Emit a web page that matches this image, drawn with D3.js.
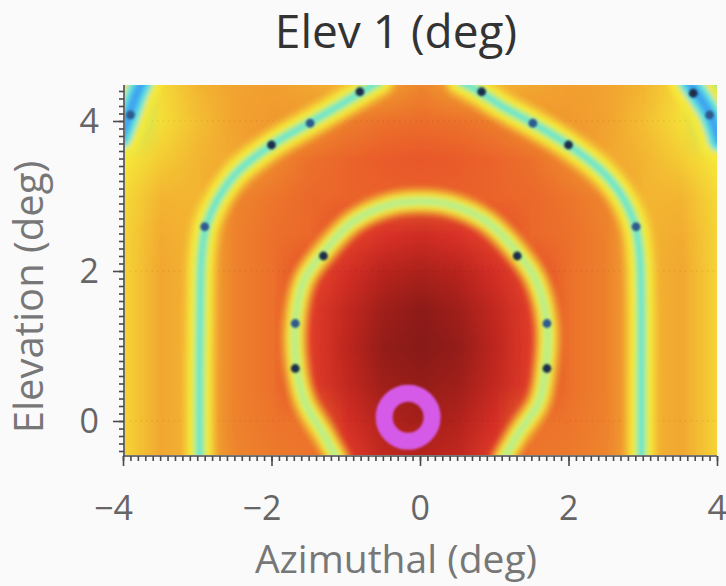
<!DOCTYPE html>
<html>
<head>
<meta charset="utf-8">
<script src="https://cdn.jsdelivr.net/npm/d3@7"></script>
<style>
  html, body { margin: 0; padding: 0; background: #fafafa; }
  svg { display: block; }
  text { font-family: "Open Sans", "DejaVu Sans", sans-serif; }
</style>
</head>
<body>
<svg id="chart" width="726" height="586"></svg>
<script>
// ---- data -------------------------------------------------------------
const titleText = "Elev 1 (deg)";
const xLabelText = "Azimuthal (deg)";
const yLabelText = "Elevation (deg)";

const xTickValues = [-4, -2, 0, 2, 4];
const yTickValues = [0, 2, 4];

// sample positions of the response grid (deg)
const azimuthGrid = [-4, -3.5, -3, -2.5, -2, -1.5, -1, -0.5, 0, 0.5, 1, 1.5, 2, 2.5, 3, 3.5, 4];
const elevationGrid = [4.5, 4, 3.5, 3, 2.5, 2, 1.5, 1, 0.5, 0, -0.5];

// normalised response level, one row per elevation (top to bottom)
const levelGrid = [
  [0.28, 0.47, 0.55, 0.59, 0.60, 0.58, 0.55, 0.60, 0.66, 0.60, 0.55, 0.58, 0.60, 0.59, 0.55, 0.47, 0.28],
  [0.34, 0.46, 0.53, 0.59, 0.61, 0.62, 0.68, 0.71, 0.72, 0.71, 0.68, 0.62, 0.61, 0.59, 0.53, 0.46, 0.34],
  [0.44, 0.50, 0.55, 0.58, 0.65, 0.71, 0.74, 0.76, 0.77, 0.76, 0.74, 0.71, 0.65, 0.58, 0.55, 0.50, 0.44],
  [0.47, 0.55, 0.55, 0.66, 0.70, 0.73, 0.74, 0.75, 0.75, 0.75, 0.74, 0.73, 0.70, 0.66, 0.55, 0.55, 0.47],
  [0.48, 0.57, 0.55, 0.67, 0.71, 0.73, 0.81, 0.86, 0.88, 0.86, 0.81, 0.73, 0.71, 0.67, 0.55, 0.57, 0.48],
  [0.48, 0.58, 0.55, 0.67, 0.71, 0.80, 0.87, 0.92, 0.94, 0.92, 0.87, 0.80, 0.71, 0.67, 0.55, 0.58, 0.48],
  [0.48, 0.58, 0.55, 0.67, 0.71, 0.83, 0.90, 0.96, 0.99, 0.96, 0.90, 0.83, 0.71, 0.67, 0.55, 0.58, 0.48],
  [0.48, 0.58, 0.55, 0.67, 0.71, 0.83, 0.91, 0.98, 1.00, 0.98, 0.91, 0.83, 0.71, 0.67, 0.55, 0.58, 0.48],
  [0.48, 0.58, 0.55, 0.67, 0.71, 0.83, 0.90, 0.96, 0.98, 0.96, 0.90, 0.83, 0.71, 0.67, 0.55, 0.58, 0.48],
  [0.48, 0.58, 0.55, 0.67, 0.70, 0.71, 0.87, 0.93, 0.95, 0.93, 0.87, 0.71, 0.70, 0.67, 0.55, 0.58, 0.48],
  [0.48, 0.58, 0.55, 0.66, 0.69, 0.70, 0.83, 0.90, 0.92, 0.90, 0.83, 0.70, 0.69, 0.66, 0.55, 0.58, 0.48]
];

// null contours [azimuth, elevation]
const innerNull = [
  [-1.12, -0.5], [-1.31, -0.16], [-1.55, 0.25], [-1.66, 0.7], [-1.68, 1.3], [-1.56, 1.88],
  [-1.3, 2.25], [-0.9, 2.66], [-0.42, 2.88], [0, 2.93], [0.42, 2.88], [0.9, 2.66],
  [1.31, 2.25], [1.56, 1.88], [1.71, 1.3], [1.69, 0.7], [1.6, 0.25], [1.33, -0.16], [1.13, -0.5]
];
const outerNullLeft = [
  [-2.97, -0.5], [-2.97, 0.5], [-2.96, 1.5], [-2.94, 2.2], [-2.88, 2.6], [-2.7, 3.0],
  [-2.45, 3.33], [-2.0, 3.68], [-1.5, 3.97], [-1.1, 4.2], [-0.8, 4.38], [-0.55, 4.53]
];
const outerNullRight = [
  [0.55, 4.53], [0.82, 4.38], [1.1, 4.2], [1.52, 3.97], [2.0, 3.68], [2.45, 3.33],
  [2.72, 3.0], [2.9, 2.6], [2.96, 2.2], [2.98, 1.5], [2.98, 0.5], [2.98, -0.5]
];
const cornerNullLeft = [[-3.74, 4.53], [-3.84, 4.3], [-3.92, 4.07], [-4.03, 3.78]];
const cornerNullRight = [[3.62, 4.53], [3.72, 4.38], [3.9, 4.1], [4.03, 3.74]];

// measured null positions [azimuth, elevation, shade]
const nullMarkers = [
  [-1.3, 2.2, 0], [-1.68, 1.3, 1], [-1.68, 0.7, 0],
  [1.31, 2.2, 0], [1.71, 1.3, 1], [1.71, 0.7, 0],
  [-2.9, 2.59, 1], [-2.0, 3.68, 0], [-1.48, 3.97, 1], [-0.81, 4.39, 0],
  [0.83, 4.39, 0], [1.52, 3.97, 1], [2.0, 3.68, 0], [2.91, 2.59, 1],
  [-3.9, 4.08, 1], [3.68, 4.37, 0], [3.9, 4.08, 1]
];

// beam pointing direction
const pointing = [[-0.16, 0.05]];

// ---- layout -----------------------------------------------------------
const svg = d3.select("#chart");
const plot = { left: 124, right: 717, top: 85, bottom: 455 };

const x = d3.scaleLinear().domain([-4, 4]).range([123, 717]);
const y = d3.scaleLinear().domain([0, 4]).range([421, 121]);

const levelColor = d3.scaleLinear()
  .domain([0.0, 0.15, 0.25, 0.35, 0.44, 0.50, 0.56, 0.62, 0.69, 0.76, 0.85, 0.92, 1.0])
  .range(["#2a70e0", "#40b8f0", "#5ee8d8", "#b8f068", "#f6e83a", "#f4cc34", "#f3b032",
          "#f0962e", "#ed7a2c", "#ea5c2a", "#e0342a", "#b8241c", "#881a18"])
  .clamp(true);

const defs = svg.append("defs");
defs.append("clipPath").attr("id", "plotClip")
  .append("rect")
  .attr("x", plot.left + 1).attr("y", plot.top)
  .attr("width", plot.right - plot.left - 1).attr("height", plot.bottom - plot.top);
defs.append("filter").attr("id", "soft").attr("x", "-20%").attr("y", "-20%")
  .attr("width", "140%").attr("height", "140%")
  .append("feGaussianBlur").attr("stdDeviation", 2.4);
defs.append("filter").attr("id", "softDot")
  .attr("filterUnits", "userSpaceOnUse")
  .attr("x", 0).attr("y", 0).attr("width", 726).attr("height", 586)
  .append("feGaussianBlur").attr("stdDeviation", 1.0);

// ---- heat map ---------------------------------------------------------
const cols = azimuthGrid.length, rows = elevationGrid.length;
const cvs = document.createElement("canvas");
cvs.width = cols; cvs.height = rows;
const ctx = cvs.getContext("2d");
const img = ctx.createImageData(cols, rows);
levelGrid.forEach((row, j) => row.forEach((v, i) => {
  const c = d3.rgb(levelColor(v));
  const k = (j * cols + i) * 4;
  img.data[k] = c.r; img.data[k + 1] = c.g; img.data[k + 2] = c.b; img.data[k + 3] = 255;
}));
ctx.putImageData(img, 0, 0);

const halfX = (azimuthGrid[1] - azimuthGrid[0]) / 2;
const halfY = (elevationGrid[0] - elevationGrid[1]) / 2;
const clipped = svg.append("g").attr("clip-path", "url(#plotClip)");
clipped.append("image")
  .attr("href", cvs.toDataURL())
  .attr("preserveAspectRatio", "none")
  .attr("x", x(azimuthGrid[0] - halfX))
  .attr("y", y(elevationGrid[0] + halfY))
  .attr("width", x(azimuthGrid[cols - 1] + halfX) - x(azimuthGrid[0] - halfX))
  .attr("height", y(elevationGrid[rows - 1] - halfY) - y(elevationGrid[0] + halfY))
  .style("image-rendering", "auto");

// faint dotted grid at the major elevations
clipped.append("g").selectAll("line").data(yTickValues).join("line")
  .attr("x1", plot.left).attr("x2", plot.right)
  .attr("y1", d => y(d)).attr("y2", d => y(d))
  .attr("stroke", "#000").attr("stroke-opacity", 0.1)
  .attr("stroke-dasharray", "1.5 4");

// ---- null contours ----------------------------------------------------
const line = d3.line().x(d => x(d[0])).y(d => y(d[1])).curve(d3.curveCatmullRom.alpha(0.5));
const nulls = clipped.append("g").attr("filter", "url(#soft)");

function drawNull(points, layers) {
  layers.forEach(([color, width, opacity]) => {
    nulls.append("path").attr("d", line(points))
      .attr("fill", "none").attr("stroke", color)
      .attr("stroke-width", width).attr("stroke-opacity", opacity)
      .attr("stroke-linecap", "round").attr("stroke-linejoin", "round");
  });
}
const outerLayers = [["#f4d23a", 34, 0.55], ["#f6ea38", 24, 0.95], ["#b4ef72", 12, 1], ["#5fe4d6", 6, 1]];
const innerLayers = [["#f4d23a", 28, 0.5], ["#f4e63c", 18, 0.95], ["#cdf06a", 9, 1], ["#a6eea0", 3.5, 0.9]];
const cornerLayers = [["#f6ea38", 40, 0.9], ["#60e4dc", 22, 1], ["#3ea4f0", 10, 1]];

drawNull(innerNull, innerLayers);
drawNull(outerNullLeft, outerLayers);
drawNull(outerNullRight, outerLayers);
drawNull(cornerNullLeft, cornerLayers);
drawNull(cornerNullRight, cornerLayers);

// measured nulls
clipped.append("g").attr("filter", "url(#softDot)")
  .selectAll("circle").data(nullMarkers).join("circle")
  .attr("cx", d => x(d[0])).attr("cy", d => y(d[1]))
  .attr("r", 4.4)
  .attr("fill", d => d[2] ? "#2d5a8c" : "#1b2f48");

// pointing marker
clipped.append("g").attr("filter", "url(#softDot)")
  .selectAll("circle").data(pointing).join("circle")
  .attr("cx", d => x(d[0])).attr("cy", d => y(d[1]))
  .attr("r", 24).attr("fill", "none")
  .attr("stroke", "#d65ae8").attr("stroke-width", 17);

// ---- axes -------------------------------------------------------------
const axisColor = "#4a4a4a";
const minorX = x.ticks(80);
const minorY = d3.range(-4, 45, 1).map(v => v / 10);

const gx = svg.append("g").attr("transform", `translate(0,${plot.bottom + 1})`);
gx.append("g").call(d3.axisBottom(x).tickValues(minorX).tickSize(5).tickFormat(""))
  .call(g => g.select(".domain").remove());
gx.append("g").call(d3.axisBottom(x).tickValues(xTickValues).tickSize(10).tickFormat(""))
  .call(g => g.select(".domain").remove());
gx.append("line").attr("x1", x(-4)).attr("x2", x(4)).attr("y1", 0).attr("y2", 0);
gx.selectAll("line").attr("stroke", axisColor).attr("stroke-width", 1.6);

svg.append("g").selectAll("text").data(xTickValues).join("text")
  .attr("x", d => x(d) + 10)
  .attr("y", 520)
  .attr("text-anchor", "end")
  .attr("font-size", 34)
  .attr("fill", "#666")
  .text(d => d < 0 ? "\u2212" + Math.abs(d) : String(d));

const gy = svg.append("g").attr("transform", `translate(${plot.left},0)`);
gy.append("g").call(d3.axisLeft(y).tickValues(minorY.filter(v => v >= -0.45)).tickSize(5).tickFormat(""))
  .call(g => g.select(".domain").remove());
gy.append("g").call(d3.axisLeft(y).tickValues(yTickValues).tickSize(11).tickFormat(""))
  .call(g => g.select(".domain").remove());
gy.append("line").attr("x1", 0).attr("x2", 0).attr("y1", plot.top).attr("y2", plot.bottom + 1);
gy.selectAll("line").attr("stroke", axisColor).attr("stroke-width", 1.6);

svg.append("g").selectAll("text").data(yTickValues).join("text")
  .attr("x", 99)
  .attr("y", d => y(d))
  .attr("dy", "0.35em")
  .attr("text-anchor", "end")
  .attr("font-size", 34)
  .attr("fill", "#666")
  .text(d => String(d));

// ---- labels -----------------------------------------------------------
svg.append("text")
  .attr("x", 396).attr("y", 48)
  .attr("text-anchor", "middle")
  .attr("font-size", 46)
  .attr("fill", "#333")
  .text(titleText);

svg.append("text")
  .attr("x", 396).attr("y", 573)
  .attr("text-anchor", "middle")
  .attr("font-size", 39)
  .attr("fill", "#777")
  .text(xLabelText);

svg.append("text")
  .attr("transform", "translate(43,297) rotate(-90)")
  .attr("text-anchor", "middle")
  .attr("font-size", 40)
  .attr("fill", "#777")
  .text(yLabelText);
</script>
</body>
</html>
